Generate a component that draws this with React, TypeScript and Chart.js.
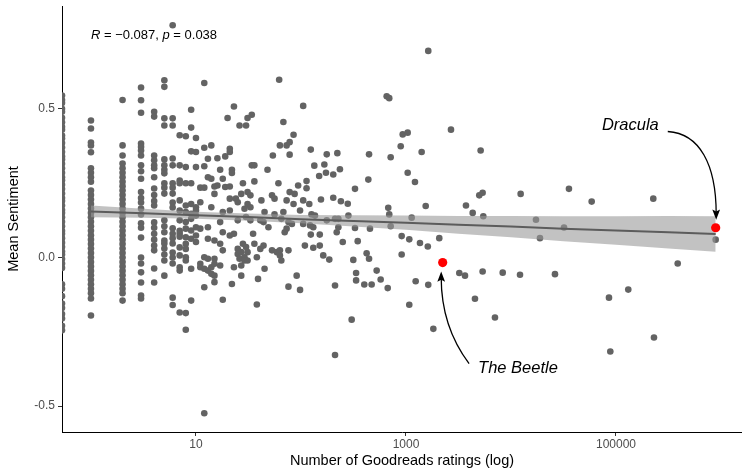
import React, { useEffect, useRef } from "react";
import { Chart, registerables } from "chart.js";

Chart.register(...registerables);

// ---------- axis settings ----------
const xTickValues = [10, 1000, 100000];
const yTickValues = [-0.5, 0, 0.5];
const xAxisMin = 0.53;
const xAxisMax = 1585000;
const yAxisMin = -0.587;
const yAxisMax = 0.846;

// ---------- correlation annotation ----------
const corrR = "\u22120.087";
const corrP = "0.038";

// ---------- data: books with 0 ratings (drawn at the axis edge) ----------
const noRatingSentiment = [
  0.545, 0.53, 0.52, 0.5, 0.49, 0.47, 0.455, 0.44, 0.43, 0.41, 0.4, 0.385, 0.37, 0.355, 0.34,
  0.33, 0.315, 0.3, 0.285, 0.27, 0.26, 0.245, 0.23, 0.215, 0.2, 0.19, 0.175, 0.16, 0.15, 0.135,
  0.12, 0.105, 0.09, 0.08, 0.065, 0.05, 0.035, 0.02, 0.01, -0.005, -0.02, -0.035, -0.09, -0.105,
  -0.13, -0.155, -0.17, -0.19, -0.205, -0.23, -0.245,
];

// ---------- data: books with 1..9 ratings ----------
const lowCountGroups: [number, number[]][] = [
  [1, [0.461, 0.434, 0.387, 0.377, 0.354, 0.3, 0.285, 0.27, 0.255, 0.225, 0.21, 0.195, 0.18, 0.165, 0.15, 0.135, 0.12, 0.105, 0.09, 0.075, 0.06, 0.045, 0.03, 0.015, 0.0, -0.015, -0.03, -0.045, -0.06, -0.075, -0.09, -0.105, -0.12, -0.138, -0.195]],
  [2, [0.53, 0.377, 0.343, 0.316, 0.3, 0.285, 0.27, 0.255, 0.24, 0.225, 0.21, 0.195, 0.18, 0.165, 0.15, 0.135, 0.12, 0.105, 0.09, 0.075, 0.06, 0.045, 0.03, 0.015, 0.0, -0.015, -0.03, -0.045, -0.06, -0.075, -0.09, -0.105, -0.12, -0.145]],
  [3, [0.572, 0.529, 0.487, 0.383, 0.372, 0.36, 0.343, 0.31, 0.29, 0.265, 0.22, 0.2, 0.185, 0.165, 0.145, 0.115, 0.1, 0.067, 0.0, -0.02, -0.05, -0.084, -0.128, -0.138]],
  [4, [0.49, 0.474, 0.343, 0.327, 0.31, 0.3, 0.27, 0.232, 0.21, 0.19, 0.175, 0.118, 0.1, 0.08, 0.06, 0.04, 0.024, -0.037, -0.084]],
  [5, [0.596, 0.574, 0.468, 0.444, 0.33, 0.31, 0.295, 0.283, 0.25, 0.235, 0.215, 0.125, 0.105, 0.085, 0.057, 0.047, 0.03, 0.01, -0.01, -0.061]],
  [6, [0.781, 0.468, 0.444, 0.333, 0.31, 0.25, 0.235, 0.215, 0.185, 0.168, 0.098, 0.08, 0.065, 0.047, 0.017, 0.0, -0.02, -0.135, -0.16]],
  [7, [0.411, 0.31, 0.259, 0.25, 0.192, 0.158, 0.125, 0.09, 0.08, 0.07, 0.034, 0.007, -0.033, -0.044, -0.185]],
  [8, [0.408, 0.304, 0.25, 0.175, 0.153, 0.119, 0.097, 0.068, 0.046, 0.029, 0.001, -0.01, -0.187, -0.243]],
  [9, [0.497, 0.437, 0.357, 0.25, 0.18, 0.147, 0.13, 0.091, 0.063, -0.038, -0.145]],
];

// ---------- data: books with 10..99 ratings ----------
const midCountGroups: [number, number[]][] = [
  [10, [0.402, 0.355, 0.304, 0.169, 0.158, 0.141, 0.102, 0.074, 0.052]],
  [11, [0.235, 0.186, 0.097, -0.021, -0.033]],
  [12, [0.587, 0.369, 0.307, 0.235, 0.001, -0.038, -0.1, -0.524]],
  [13, [0.332, 0.27, 0.102, 0.063, -0.004, -0.044]],
  [14, [0.377, 0.265, 0.169, -0.033, -0.055]],
  [15, [0.239, 0.214, 0.057, -0.004, -0.021, -0.061, -0.083]],
  [16, [0.334, 0.242]],
  [17, [0.295, 0.119, 0.046, -0.027]],
  [18, [0.265, 0.153, 0.085, 0.024, -0.142]],
  [19, [0.34, 0.237]],
  [20, [0.469]],
  [21, [0.366, 0.355, 0.239, 0.198, 0.158, 0.074]],
  [22, [0.295, 0.284, -0.089]],
  [23, [0.508, 0.08, -0.033]],
  [24, [0.198]],
  [25, [0.186, 0.125, 0.029, 0.012]],
  [26, [0.444, -0.004]],
  [27, [0.214, 0.018, -0.027, -0.061]],
  [28, [0.25, 0.046]],
  [29, [0.164, 0.001, -0.01]],
  [30, [0.444, 0.136, 0.035]],
  [31, [0.469, 0.22, 0.18, 0.018, -0.01]],
  [33, [0.209, 0.169, 0.125]],
  [34, [0.48, 0.31]],
  [35, [0.08]],
  [36, [0.31, 0.256, 0.046]],
  [38, [0.001, -0.158]],
  [39, [-0.072]],
  [41, [0.125, 0.029]],
  [42, [0.192]],
  [44, [0.119, 0.04]],
  [45, [0.153, -0.038]],
  [48, [0.295]],
  [49, [0.102]],
  [53, [0.209, 0.024]],
  [54, [0.343]],
  [56, [0.198, 0.145]],
  [59, [0.018]],
  [61, [0.25]],
  [62, [0.598]],
  [63, [0.377, 0.024, 0.007]],
  [65, [0.13, -0.01]],
  [68, [0.456, 0.153]],
  [70, [0.085]],
  [73, [0.377, 0.192, 0.097]],
  [76, [0.119, 0.024, -0.098]],
  [78, [0.388, 0.346, 0.22]],
  [82, [0.113]],
  [85, [0.413, 0.18]],
  [87, [0.214]],
  [91, [-0.061]],
  [94, [0.242]],
  [98, [0.158, -0.109]],
];

// ---------- data: books with 100+ ratings [ratings, sentiment] ----------
const highCountBooks: [number, number][] = [
  [105, 0.51], [105, 0.192], [105, 0.113], [109, 0.04], [113, 0.257], [113, 0.233], [120, 0.18],
  [124, 0.363], [126, 0.145], [122, 0.108], [131, 0.102], [134, 0.309], [136, 0.141], [124, 0.077],
  [131, 0.033], [149, 0.274], [151, 0.077], [151, 0.04], [155, 0.195], [163, 0.007], [167, 0.313],
  [173, 0.285], [176, 0.347], [176, 0.125], [186, -0.007], [203, 0.279], [203, 0.201], [211, 0.13],
  [211, -0.094], [211, -0.328], [219, 0.085], [222, 0.351], [227, 0.13], [227, 0.102], [235, 0.297],
  [240, 0.189], [250, 0.052], [279, 0.181], [283, 0.141], [304, -0.209], [315, -0.008], [327, 0.231],
  [327, 0.099], [335, -0.052], [335, -0.077], [347, 0.055], [401, -0.091], [422, 0.014], [438, 0.262],
  [445, 0.347], [445, -0.004], [454, 0.097], [471, -0.091], [526, -0.044], [574, -0.074], [655, 0.542],
  [670, -0.103], [678, 0.167], [693, 0.536], [693, 0.145], [715, 0.337], [715, 0.105], [891, 0.374],
  [910, 0.072], [910, 0.01], [931, 0.414], [1038, 0.42], [1038, 0.285], [1075, 0.061], [1075, -0.159],
  [1133, 0.134], [1218, 0.254], [1237, -0.08], [1359, 0.049], [1410, 0.355], [1541, 0.173],
  [1614, 0.037], [1630, 0.695], [1630, -0.092], [1822, -0.24], [2075, 0.065], [2683, 0.43],
  [3220, -0.052], [3648, -0.061], [3727, 0.175], [4317, 0.15], [4540, -0.139], [4990, 0.209],
  [5140, 0.36], [5370, 0.218], [5370, -0.047], [5450, 0.139], [7040, -0.202], [8340, -0.051],
  [12190, -0.058], [12360, 0.214], [17300, 0.127], [18880, 0.065], [26240, -0.056], [31990, 0.101],
  [35650, 0.231], [58690, 0.188], [85760, -0.135], [88290, -0.316], [130900, -0.108], [226500, 0.198],
  [230100, -0.269], [387000, -0.02], [890000, 0.06],
];

// ---------- highlighted books ----------
const highlightNames = ["Dracula", "The Beetle"];
const highlightRatings = [890000, 2237];
const highlightSentiment = [0.1, -0.017];

// ---------- linear fit with 95% band ----------
const fitRatings = [1, 3.16, 10, 31.6, 100, 316, 1000, 3162, 10000, 31623, 100000, 316228, 890000];
const fitMean = [0.155, 0.149, 0.142, 0.136, 0.129, 0.123, 0.117, 0.11, 0.104, 0.097, 0.091, 0.085, 0.079];
const fitLower = [0.135, 0.134, 0.13, 0.124, 0.115, 0.104, 0.093, 0.08, 0.068, 0.055, 0.043, 0.03, 0.019];
const fitUpper = [0.175, 0.164, 0.154, 0.148, 0.143, 0.142, 0.141, 0.14, 0.14, 0.139, 0.139, 0.14, 0.139];

const FONT = "'Liberation Sans', Arial, Helvetica, sans-serif";

function buildPoints() {
  const pts: { x: number; y: number }[] = [];
  noRatingSentiment.forEach((v) => pts.push({ x: xAxisMin, y: v }));
  lowCountGroups.forEach(([n, vals]) => vals.forEach((v) => pts.push({ x: n, y: v })));
  midCountGroups.forEach(([n, vals]) => vals.forEach((v) => pts.push({ x: n, y: v })));
  highCountBooks.forEach(([n, v]) => pts.push({ x: n, y: v }));
  return pts;
}

function drawArrowHead(ctx: CanvasRenderingContext2D, from: { x: number; y: number }, tip: { x: number; y: number }) {
  const ang = Math.atan2(tip.y - from.y, tip.x - from.x);
  const len = 11;
  const half = 0.36;
  const p1 = { x: tip.x - len * Math.cos(ang - half), y: tip.y - len * Math.sin(ang - half) };
  const p2 = { x: tip.x - len * Math.cos(ang + half), y: tip.y - len * Math.sin(ang + half) };
  const notch = { x: tip.x - len * 0.75 * Math.cos(ang), y: tip.y - len * 0.75 * Math.sin(ang) };
  ctx.beginPath();
  ctx.moveTo(tip.x, tip.y);
  ctx.lineTo(p1.x, p1.y);
  ctx.lineTo(notch.x, notch.y);
  ctx.lineTo(p2.x, p2.y);
  ctx.closePath();
  ctx.fill();
}

const annotationPlugin = {
  id: "annotations",
  afterDraw(chart: any) {
    const { ctx } = chart;
    const xs = chart.scales.x;
    const ys = chart.scales.y;
    ctx.save();
    ctx.fillStyle = "#000";
    ctx.strokeStyle = "#000";
    ctx.textBaseline = "middle";
    ctx.textAlign = "left";

    // correlation label
    let cx = xs.getPixelForValue(1);
    const cy = ys.getPixelForValue(0.747);
    const parts: [string, boolean][] = [
      ["R", true],
      [" = " + corrR + ", ", false],
      ["p", true],
      [" = " + corrP, false],
    ];
    parts.forEach(([t, it]) => {
      ctx.font = (it ? "italic " : "") + "13px " + FONT;
      ctx.fillText(t, cx, cy);
      cx += ctx.measureText(t).width;
    });

    // book labels
    ctx.font = "italic 16.5px " + FONT;
    ctx.textAlign = "center";
    const dLabel = { x: xs.getPixelForValue(137000), y: ys.getPixelForValue(0.444) };
    const bLabel = { x: xs.getPixelForValue(11660), y: ys.getPixelForValue(-0.374) };
    ctx.fillText(highlightNames[0], dLabel.x, dLabel.y);
    ctx.fillText(highlightNames[1], bLabel.x, bLabel.y);
    const dW = ctx.measureText(highlightNames[0]).width;
    const bW = ctx.measureText(highlightNames[1]).width;

    const dPt = { x: xs.getPixelForValue(highlightRatings[0]), y: ys.getPixelForValue(highlightSentiment[0]) };
    const bPt = { x: xs.getPixelForValue(highlightRatings[1]), y: ys.getPixelForValue(highlightSentiment[1]) };

    ctx.lineWidth = 1.3;
    // Dracula arrow
    {
      const S = { x: dLabel.x + dW / 2 + 9, y: dLabel.y + 6 };
      const E = { x: dPt.x + 0.5, y: dPt.y - 8 };
      const C1 = { x: S.x + 32, y: S.y + 2 };
      const C2 = { x: E.x, y: E.y - 55 };
      ctx.beginPath();
      ctx.moveTo(S.x, S.y);
      ctx.bezierCurveTo(C1.x, C1.y, C2.x, C2.y, E.x, E.y - 6);
      ctx.stroke();
      drawArrowHead(ctx, C2, E);
    }
    // The Beetle arrow
    {
      const S = { x: bLabel.x - bW / 2 - 9, y: bLabel.y - 5 };
      const E = { x: bPt.x - 1.5, y: bPt.y + 9 };
      const C1 = { x: S.x - 21, y: S.y - 28 };
      const C2 = { x: E.x, y: E.y + 33 };
      ctx.beginPath();
      ctx.moveTo(S.x, S.y);
      ctx.bezierCurveTo(C1.x, C1.y, C2.x, C2.y, E.x, E.y + 6);
      ctx.stroke();
      drawArrowHead(ctx, C2, E);
    }
    ctx.restore();
  },
};

export default function App() {
  const ref = useRef<HTMLCanvasElement | null>(null);

  useEffect(() => {
    if (!ref.current) return;
    const grayPts = buildPoints();
    const redPts = highlightRatings.map((r, i) => ({ x: r, y: highlightSentiment[i] }));
    const fitLine = fitRatings.map((r, i) => ({ x: r, y: fitMean[i] }));
    const upper = fitRatings.map((r, i) => ({ x: r, y: fitUpper[i] }));
    const lower = fitRatings.map((r, i) => ({ x: r, y: fitLower[i] }));

    const tickFont = { family: FONT, size: 12 };
    const titleFont = { family: FONT, size: 14.5 };

    const chart = new Chart(ref.current, {
      type: "scatter",
      data: {
        datasets: [
          {
            type: "scatter",
            data: redPts,
            pointRadius: 4.6,
            pointBackgroundColor: "#ff0000",
            pointBorderWidth: 0,
            borderColor: "#ff0000",
          } as any,
          {
            type: "line",
            data: fitLine,
            borderColor: "#5c5c5c",
            borderWidth: 2,
            pointRadius: 0,
            fill: false,
            showLine: true,
          } as any,
          {
            type: "line",
            data: upper,
            borderColor: "transparent",
            borderWidth: 0,
            pointRadius: 0,
            fill: "+1",
            backgroundColor: "rgba(153,153,153,0.6)",
            showLine: true,
          } as any,
          {
            type: "line",
            data: lower,
            borderColor: "transparent",
            borderWidth: 0,
            pointRadius: 0,
            fill: false,
            showLine: true,
          } as any,
          {
            type: "scatter",
            data: grayPts,
            pointRadius: 3.3,
            pointBackgroundColor: "#636363",
            pointBorderWidth: 0,
            borderColor: "#636363",
            clip: 0,
          } as any,
        ],
      },
      options: {
        animation: false,
        responsive: false,
        events: [],
        layout: { autoPadding: false, padding: { top: 6, left: 0, right: 0, bottom: 0 } },
        plugins: { legend: { display: false }, tooltip: { enabled: false } },
        scales: {
          x: {
            type: "logarithmic",
            position: "bottom",
            min: xAxisMin,
            max: xAxisMax,
            afterBuildTicks: (s: any) => {
              s.ticks = xTickValues.map((v) => ({ value: v }));
            },
            afterFit: (s: any) => {
              s.height = 39;
              s.paddingLeft = 0;
              s.paddingRight = 0;
            },
            ticks: {
              callback: (v: any) => String(v),
              color: "#4d4d4d",
              font: tickFont,
              padding: 1,
              maxRotation: 0,
              autoSkip: false,
            },
            grid: { display: true, drawOnChartArea: false, drawTicks: true, tickLength: 4, color: "#333333", lineWidth: 1 },
            border: { display: true, color: "#000000", width: 1 },
            title: {
              display: true,
              text: "Number of Goodreads ratings (log)",
              color: "#000000",
              font: titleFont,
              padding: { top: 0, bottom: 1 },
            },
          } as any,
          y: {
            type: "linear",
            min: yAxisMin,
            max: yAxisMax,
            afterBuildTicks: (s: any) => {
              s.ticks = yTickValues.map((v) => ({ value: v }));
            },
            afterFit: (s: any) => {
              s.width = 62;
              s.paddingTop = 0;
              s.paddingBottom = 0;
            },
            ticks: {
              callback: (v: any) => Number(v).toFixed(1),
              color: "#4d4d4d",
              font: tickFont,
              padding: 3,
            },
            grid: { display: true, drawOnChartArea: false, drawTicks: true, tickLength: 4, color: "#333333", lineWidth: 1 },
            border: { display: true, color: "#000000", width: 1 },
            title: {
              display: true,
              text: "Mean Sentiment",
              color: "#000000",
              font: titleFont,
              padding: { top: 5, bottom: 0 },
            },
          } as any,
        },
      },
      plugins: [annotationPlugin],
    } as any);

    return () => chart.destroy();
  }, []);

  return (
    <div style={{ position: "absolute", left: 0, top: 0, width: 742, height: 471, background: "#fff" }}>
      <canvas ref={ref} width={742} height={471} style={{ display: "block" }} />
    </div>
  );
}
